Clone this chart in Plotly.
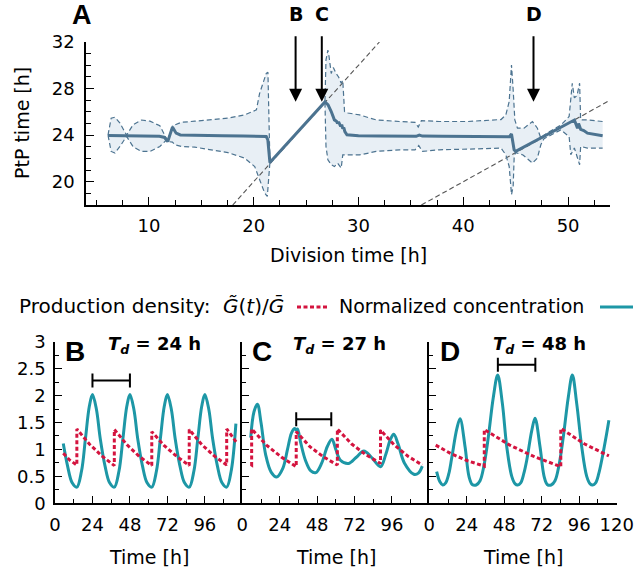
import plotly.graph_objects as go

W, H = 635, 576
def px(x): return x / W
def py(y): return 1 - y / H

# ---------------- Panel A data ----------------
a_main_x = [6.1, 7, 8, 9, 10, 11, 11.5, 11.8, 12.25, 12.6, 13, 15, 17, 19, 20.5, 21.2, 21.35, 21.55,
            26.8, 27.1, 27.4, 27.7, 27.9, 28.0, 28.1, 28.3, 28.4, 28.5, 28.6, 28.7, 28.9, 30, 32, 34, 35.5,
            35.8, 36.1, 38, 40, 42, 44.4, 44.6, 44.85, 45.0, 50.3, 50.6, 50.9, 51.0, 51.2, 51.5, 51.85, 52.5, 53.3]
a_main_y = [23.97, 23.95, 23.93, 23.92, 23.92, 23.9, 23.8, 23.45, 24.69, 24.17, 24.02, 23.96, 23.95, 23.93, 23.92,
            23.88, 23.6, 21.65, 26.85, 26.6, 26.03, 25.31, 25.2, 25.0, 25.15, 24.75, 24.9, 24.55, 24.65, 24.3,
            24.03, 23.94, 23.93, 23.92, 23.9, 24.0, 23.92, 23.9, 23.9, 23.89, 23.87, 24.1, 22.74, 22.6,
            25.15, 25.3, 24.6, 25.0, 24.5, 24.4, 24.17, 24.05, 23.95]

a_upper_x = [6.1, 6.4, 6.76, 7.24, 7.87, 8.5, 9.3, 10.1, 11.05, 11.7, 11.8, 12.25, 12.48, 13.1, 14.38, 15.97,
             17.55, 19.14, 20.26, 20.57, 20.9, 21.2, 21.36, 21.55, 26.8, 26.9, 27.08, 27.2, 27.4, 27.6, 27.87,
             28.1, 28.35, 28.5, 28.67, 29.0, 30.1, 31.68, 33.9, 35.4, 35.7, 36.0, 37.7, 40.4, 43.6, 44.06,
             44.38, 44.6, 44.76, 44.92, 45.17, 45.8, 46.6, 47.07, 47.4, 47.7, 48.5, 49.3, 50.1, 50.26, 50.4,
             50.6, 50.85, 51.1, 51.2, 51.84, 53.1, 53.3]
a_upper_y = [24.0, 25.46, 25.54, 25.03, 24.0, 24.9, 25.3, 25.2, 24.8, 23.7, 23.5, 24.8, 24.89, 25.1, 25.2, 25.34,
             25.46, 25.74, 26.17, 27.6, 28.46, 29.3, 29.4, 21.65, 26.85, 30.46, 31.3, 30.7, 29.3, 29.8, 29.3,
             29.0, 28.46, 28.7, 26.03, 25.9, 25.74, 25.31, 25.17, 25.1, 24.7, 25.25, 25.17, 25.17, 25.34, 25.74,
             26.88, 30.03, 27.9, 25.31, 24.6, 24.6, 25.17, 24.6, 23.74, 24.0, 24.45, 24.85, 25.6, 27.03, 28.46,
             27.2, 27.4, 28.46, 25.31, 25.31, 25.17, 25.17]

a_lower_x = [6.1, 6.4, 6.76, 7.24, 7.87, 8.5, 9.3, 10.1, 11.05, 11.7, 11.8, 12.25, 12.48, 13.1, 14.38, 15.97,
             17.55, 19.14, 20.1, 20.57, 21.05, 21.3, 21.55, 26.8, 26.9, 27.08, 27.4, 27.7, 28.0, 28.35, 28.5,
             28.8, 30.1, 31.68, 33.9, 35.4, 35.75, 36.1, 37.7, 40.4, 43.6, 44.06, 44.38, 44.6, 44.76, 44.86,
             45.0, 45.7, 46.6, 47.07, 47.4, 47.7, 48.5, 49.3, 50.1, 50.26, 50.6, 50.85, 51.1, 51.2, 51.84,
             53.1, 53.3]
a_lower_y = [24.0, 22.6, 22.46, 23.03, 23.9, 23.0, 22.6, 22.6, 23.03, 23.6, 23.45, 23.4, 23.17, 23.03, 22.97,
             22.74, 22.5, 22.03, 21.3, 20.17, 19.03, 18.74, 21.65, 26.85, 23.03, 21.89, 21.46, 21.3, 21.6, 21.17,
             22.3, 22.3, 22.3, 22.6, 22.74, 22.74, 23.1, 22.6, 22.74, 22.8, 22.89, 22.31, 21.31, 18.89, 19.6,
             22.2, 22.5, 22.3, 21.6, 22.03, 23.17, 23.7, 24.05, 24.45, 23.88, 22.31, 22.9, 22.2, 21.46, 23.03,
             22.89, 22.89, 22.89]

diag1_x = [18, 32]
diag1_y = [18, 32]
diag2_x = [36, 54]
diag2_y = [18, 27]

arrow_x = [24, 26.5, 46.7]
arrow_y = [26.86, 26.86, 26.86]
arrow_labels = ["B", "C", "D"]

# ---------------- Panels B, C, D data ----------------
b_conc_t = [5.3, 8, 11, 14, 17, 19.5, 22, 24, 26.5, 29, 32, 35, 38, 41, 43.5, 46, 48, 50.5, 53, 56, 59, 62,
            65, 67.5, 70, 72, 74.5, 77, 80, 83, 86, 89, 91.5, 94, 96, 98.5, 101, 104, 107, 110, 113, 115.9]
b_conc_v = [1.11, 0.7, 0.38, 0.3, 0.6, 1.2, 1.8, 2.02, 1.75, 1.2, 0.7, 0.38, 0.3, 0.6, 1.2, 1.8, 2.02, 1.75,
            1.2, 0.7, 0.38, 0.3, 0.6, 1.2, 1.8, 2.02, 1.75, 1.2, 0.7, 0.38, 0.3, 0.6, 1.2, 1.8, 2.02, 1.75,
            1.2, 0.7, 0.38, 0.3, 0.62, 1.48]
b_prod_t = [5.3, 9.5, 14.0, 14.0, 22, 30, 38.0, 38.0, 46, 54, 62.0, 62.0, 70, 78, 86.0, 86.0, 94, 102,
            110.0, 110.0, 116]
b_prod_v = [0.93, 0.8, 0.71, 1.38, 1.1, 0.88, 0.7, 1.37, 1.09, 0.87, 0.7, 1.33, 1.07, 0.87, 0.7, 1.37, 1.09,
            0.88, 0.71, 1.38, 1.14]

c_conc_t = [5.4, 7.5, 9.7, 12, 15, 18.5, 22.1, 26, 29, 31.5, 33.5, 34.6, 35.4, 37.5, 40.5, 44, 47.2, 51, 54.5,
            57.5, 60, 63, 68.3, 73, 78, 83, 88.7, 92, 95, 97.2, 100, 104, 110.1, 113, 115.5]
c_conc_v = [1.22, 1.7, 1.84, 1.5, 0.9, 0.58, 0.49, 0.65, 1.0, 1.3, 1.39, 1.36, 1.38, 1.12, 0.8, 0.6, 0.57,
            0.75, 1.05, 1.19, 1.0, 0.8, 0.74, 0.85, 0.97, 0.85, 0.68, 0.9, 1.18, 1.28, 1.1, 0.75, 0.54, 0.56,
            0.69]
c_prod_t = [5.4, 6.0, 6.0, 15.5, 25, 34.6, 34.6, 43.4, 52.2, 61.0, 61.0, 70.2, 79.4, 88.7, 88.7, 97.6, 106.5,
            115.5]
c_prod_v = [0.72, 0.71, 1.38, 1.08, 0.86, 0.68, 1.33, 1.05, 0.86, 0.71, 1.38, 1.1, 0.9, 0.74, 1.36, 1.08,
            0.87, 0.71]

d_conc_t = [4.7, 6.8, 8.6, 10.5, 12.5, 14.4, 17.6, 19.7, 22.9, 25.4, 27.5, 30, 32.5, 35, 37.8, 41, 43.8, 46.8,
            49.6, 52.8, 55, 56.6, 58.5, 60.5, 62.4, 65.6, 67.7, 70.9, 73.5, 75.5, 78, 80.5, 83, 85.8, 89, 91.6,
            94.4, 97.6, 100.8, 103, 104.6, 106.5, 108.5, 110.4, 113.6, 115]
d_conc_v = [0.59, 0.4, 0.34, 0.38, 0.55, 0.85, 1.38, 1.57, 1.05, 0.5, 0.35, 0.34, 0.42, 0.7, 1.23, 1.97, 2.38,
            1.85, 1.05, 0.5, 0.36, 0.34, 0.38, 0.55, 0.8, 1.35, 1.58, 1.05, 0.5, 0.35, 0.34, 0.42, 0.7, 1.23,
            1.97, 2.38, 1.85, 1.05, 0.5, 0.36, 0.34, 0.38, 0.55, 0.8, 1.3, 1.54]
d_prod_t = [4.1, 14, 24.5, 35.2, 35.2, 51.5, 67.7, 84.2, 84.2, 99.5, 115]
d_prod_v = [1.08, 0.92, 0.79, 0.69, 1.37, 1.08, 0.86, 0.68, 1.39, 1.1, 0.88]

panel_td = ["24", "27", "48"]
scalebar_t = [[24, 48], [34.6, 57.1], [43.9, 67.9]]
scalebar_v = [2.28, 1.56, 2.57]

x_ticks_bottom = [[0, 24, 48, 72, 96], [0, 24, 48, 72, 96], [0, 24, 48, 72, 96, 120]]
y_ticks_bottom = [0, 0.5, 1, 1.5, 2, 2.5, 3]
y_ticklabels_bottom = ["0", "0.5", "1", "1.5", "2", "2.5", "3"]

# ---------------- styles ----------------
FONT = "DejaVu Sans"
BLUE = "#4c7390"
BAND = "#e8eff5"
RED = "#d4143f"
TEAL = "#1d97a6"

fig = go.Figure()

# Panel A
fig.add_trace(go.Scatter(x=a_upper_x + a_lower_x[::-1], y=a_upper_y + a_lower_y[::-1],
                         fill="toself", fillcolor=BAND, line=dict(width=0), mode="lines",
                         hoverinfo="skip", xaxis="x", yaxis="y"))
for dx, dy in [(diag1_x, diag1_y), (diag2_x, diag2_y)]:
    fig.add_trace(go.Scatter(x=dx, y=dy, mode="lines", line=dict(color="#555555", width=1.1, dash="5px,3px"),
                             xaxis="x", yaxis="y"))
for bx, by in [(a_upper_x, a_upper_y), (a_lower_x, a_lower_y)]:
    fig.add_trace(go.Scatter(x=bx, y=by, mode="lines", line=dict(color=BLUE, width=1.2, dash="5px,3px"),
                             xaxis="x", yaxis="y"))
fig.add_trace(go.Scatter(x=a_main_x, y=a_main_y, mode="lines", line=dict(color=BLUE, width=3),
                         xaxis="x", yaxis="y"))

# Bottom panels
bottom = [(b_conc_t, b_conc_v, b_prod_t, b_prod_v),
          (c_conc_t, c_conc_v, c_prod_t, c_prod_v),
          (d_conc_t, d_conc_v, d_prod_t, d_prod_v)]
for i, (ct, cv, pt, pv) in enumerate(bottom):
    xa, ya = f"x{i+2}", f"y{i+2}"
    fig.add_trace(go.Scatter(x=ct, y=cv, mode="lines", line=dict(color=TEAL, width=3, shape="spline",
                             smoothing=1.0), xaxis=xa, yaxis=ya))
    fig.add_trace(go.Scatter(x=pt, y=pv, mode="lines", line=dict(color=RED, width=3, dash="4px,2.5px"),
                             xaxis=xa, yaxis=ya))
    fig.add_trace(go.Scatter(x=scalebar_t[i], y=[scalebar_v[i]] * 2, mode="lines+markers",
                             line=dict(color="black", width=2),
                             marker=dict(symbol="line-ns-open", size=10, line=dict(width=2, color="black")),
                             xaxis=xa, yaxis=ya))

axis_common = dict(showline=True, linecolor="black", linewidth=1.5, ticks="inside", tickcolor="black",
                   tickwidth=1.3, showgrid=False, zeroline=False, mirror=False, automargin=False,
                   tickfont=dict(family=FONT, size=18, color="black"))

layout = dict(
    width=W, height=H, margin=dict(l=0, r=0, t=0, b=0, pad=0, autoexpand=False), showlegend=False,
    plot_bgcolor="white", paper_bgcolor="white",
    font=dict(family=FONT, size=19, color="black"),
    xaxis=dict(domain=[px(86), px(610)], anchor="y", range=[4, 54], tickvals=[10, 20, 30, 40, 50],
               ticklen=8, minor=dict(dtick=2.5, tick0=0, ticklen=5, ticks="inside", tickcolor="black",
                                     tickwidth=1.3), ticklabelstandoff=4, **axis_common),
    yaxis=dict(domain=[py(205), py(42)], anchor="x", range=[18, 32], tickvals=[20, 24, 28, 32],
               ticklen=8, minor=dict(dtick=1, tick0=0, ticklen=5, ticks="inside", tickcolor="black",
                                     tickwidth=1.3), ticklabelstandoff=6, **axis_common),
)
xdoms = [[px(55), px(242.3)], [px(242.3), px(429.3)], [px(429.3), px(616.7)]]
for i in range(3):
    n = i + 2
    layout[f"xaxis{n}"] = dict(domain=xdoms[i], anchor=f"y{n}", range=[0, 120], tickvals=x_ticks_bottom[i],
                               ticklen=8, minor=dict(dtick=12, tick0=0, ticklen=5, ticks="inside",
                                                     tickcolor="black", tickwidth=1.3),
                               ticklabelstandoff=4, **axis_common)
    layout[f"yaxis{n}"] = dict(domain=[py(503.3), py(341.7)], anchor=f"x{n}", range=[0, 3],
                               tickvals=y_ticks_bottom, ticktext=y_ticklabels_bottom,
                               showticklabels=(i == 0), ticklen=7,
                               minor=dict(dtick=0.25, tick0=0, ticklen=4, ticks="inside", tickcolor="black",
                                          tickwidth=1.3), ticklabelstandoff=4, **axis_common)

annotations = []
# Panel A arrows with their labels (label sits at the arrow tail)
for ax_, ay_, lab in zip(arrow_x, arrow_y, arrow_labels):
    annotations.append(dict(x=ax_, y=ay_, xref="x", yref="y", ax=0, ay=-88, text=f"<b>{lab}</b>",
                            showarrow=True, arrowhead=2, arrowsize=1.3, arrowwidth=2, arrowcolor="black",
                            standoff=0, borderpad=11, font=dict(family=FONT, size=19, color="black")))
annotations.append(dict(x=px(82), y=py(15), xref="paper", yref="paper", text="<b>A</b>", showarrow=False,
                        font=dict(family="Liberation Sans", size=27, color="black"), xanchor="center",
                        yanchor="middle"))
annotations.append(dict(x=px(348), y=py(255), xref="paper", yref="paper", text="Division time [h]",
                        showarrow=False, xanchor="center", yanchor="middle"))
annotations.append(dict(x=px(22), y=py(123), xref="paper", yref="paper", text="PtP time [h]", textangle=-90,
                        showarrow=False, xanchor="center", yanchor="middle"))
# legend
annotations.append(dict(x=px(17), y=py(306), xref="paper", yref="paper", text="Production density:",
                        showarrow=False, xanchor="left", yanchor="middle", font=dict(size=20)))
annotations.append(dict(x=px(286), y=py(306), xref="paper", yref="paper",
                        text="<i>G\u0303</i>(<i>t</i>)/<i>G\u0304</i>",
                        showarrow=False, xanchor="right", yanchor="middle", font=dict(size=20)))
annotations.append(dict(x=px(586), y=py(306), xref="paper", yref="paper", text="Normalized concentration",
                        showarrow=False, xanchor="right", yanchor="middle"))
# bottom panels texts
label_x = [75, 262, 450]
td_x = [154, 339, 539]
for i, lab in enumerate(["B", "C", "D"]):
    annotations.append(dict(x=px(label_x[i]), y=py(351), xref="paper", yref="paper", text=f"<b>{lab}</b>",
                            showarrow=False, font=dict(family="Liberation Sans", size=28, color="black"),
                            xanchor="center", yanchor="middle"))
    annotations.append(dict(x=px(td_x[i]), y=py(345), xref="paper", yref="paper",
                            text=f"<b><i>T<sub>d</sub></i> = {panel_td[i]} h</b>", showarrow=False,
                            font=dict(family=FONT, size=18, color="black"), xanchor="center", yanchor="middle"))
    cx = (xdoms[i][0] + xdoms[i][1]) / 2
    annotations.append(dict(x=cx, y=py(557), xref="paper", yref="paper", text="Time [h]", showarrow=False,
                            xanchor="center", yanchor="middle"))
layout["annotations"] = annotations
layout["shapes"] = [
    dict(type="line", xref="paper", yref="paper", x0=px(297), x1=px(328), y0=py(307), y1=py(307),
         line=dict(color=RED, width=3, dash="4px,2.5px")),
    dict(type="line", xref="paper", yref="paper", x0=px(600), x1=px(633), y0=py(307), y1=py(307),
         line=dict(color=TEAL, width=3)),
]
fig.update_layout(**layout)
fig.write_html("out.html", config={"displayModeBar": False},
               post_script="document.body.style.margin='0px';document.body.style.overflow='hidden';")
